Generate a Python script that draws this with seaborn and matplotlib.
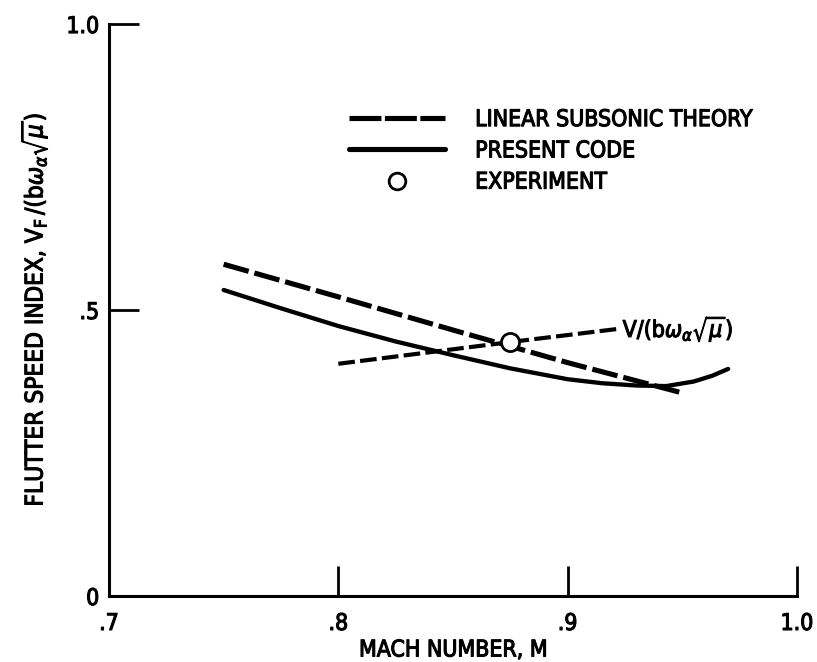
import matplotlib
matplotlib.use("Agg")
import matplotlib.pyplot as plt
import matplotlib.patheffects as pe
import seaborn as sns
import numpy as np
import pandas as pd
from matplotlib.lines import Line2D

# ---- data ----
mach_theory = [0.75, 0.80, 0.85, 0.90, 0.95]
index_theory = [0.580, 0.523, 0.465, 0.408, 0.355]

mach_code = [0.75, 0.775, 0.80, 0.825, 0.85, 0.875, 0.90, 0.915, 0.93, 0.943, 0.955, 0.963, 0.97]
index_code = [0.535, 0.503, 0.472, 0.445, 0.421, 0.398, 0.379, 0.372, 0.368, 0.367, 0.375, 0.385, 0.397]

mach_ref = [0.80, 0.875, 0.922]
index_ref = [0.406, 0.444, 0.467]

mach_exp = [0.875]
index_exp = [0.444]

x_ticks = [0.7, 0.8, 0.9, 1.0]
x_ticklabels = [".7", ".8", ".9", "1.0"]
y_ticks = [0.0, 0.5, 1.0]
y_ticklabels = ["0", ".5", "1.0"]
legend_labels = ["LINEAR SUBSONIC THEORY", "PRESENT CODE", "EXPERIMENT"]
ref_label = r"V$/(\mathregular{b}\omega_\alpha\sqrt{\mu})$"
x_label = "MACH NUMBER, M"
y_label = r"FLUTTER SPEED INDEX, V$_\mathregular{F}\,/(\mathregular{b}\omega_\alpha\sqrt{\mu})$"

# ---- style ----
sns.set_style("white")
plt.rcParams['font.family'] = ['DejaVu Sans']
plt.rcParams['font.stretch'] = 'condensed'
plt.rcParams['mathtext.fontset'] = 'dejavusans'
plt.rcParams['lines.scale_dashes'] = False
plt.rcParams['text.color'] = 'black'
plt.rcParams['axes.labelcolor'] = 'black'
plt.rcParams['xtick.color'] = 'black'
plt.rcParams['ytick.color'] = 'black'
FS = 16.5
BOLD = [pe.withStroke(linewidth=0.8, foreground="black")]

fig = plt.figure(figsize=(8.17, 6.62), dpi=100)
ax = fig.add_axes([0.1334, 0.0997, 0.8421, 0.8640])

df_theory = pd.DataFrame({"M": mach_theory, "V": index_theory})
df_code = pd.DataFrame({"M": mach_code, "V": index_code})
df_ref = pd.DataFrame({"M": mach_ref, "V": index_ref})
df_exp = pd.DataFrame({"M": mach_exp, "V": index_exp})

sns.lineplot(data=df_theory, x="M", y="V", ax=ax, color="black", lw=3.7, sort=False)
ax.lines[-1].set_dashes((18.7, 4.3))
sns.lineplot(data=df_code, x="M", y="V", ax=ax, color="black", lw=3.1, sort=False)
sns.lineplot(data=df_ref, x="M", y="V", ax=ax, color="black", lw=3.0, sort=False)
ax.lines[-1].set_dashes((12.0, 3.8))
sns.scatterplot(data=df_exp, x="M", y="V", ax=ax, s=170, marker="o",
                facecolor="white", edgecolor="black", linewidth=2.0, zorder=5)

ax.text(mach_ref[-1] + 0.002, index_ref[-1], ref_label, fontsize=FS,
        ha="left", va="center", color="black", path_effects=BOLD)

ax.set_xlim(0.7, 1.0)
ax.set_ylim(0.0, 1.0)
ax.set_xticks(x_ticks)
ax.set_xticklabels(x_ticklabels, fontsize=FS)
ax.set_yticks(y_ticks)
ax.set_yticklabels(y_ticklabels, fontsize=FS)
ax.tick_params(direction="in", length=21.6, width=2.0, color="black",
               bottom=True, left=True, labelcolor="black")
ax.tick_params(axis="x", pad=11.5)
ax.tick_params(axis="y", pad=7)
for lab in ax.get_xticklabels() + ax.get_yticklabels():
    lab.set_path_effects(BOLD)
for s in ["top", "right"]:
    ax.spines[s].set_visible(False)
for s in ["left", "bottom"]:
    ax.spines[s].set_linewidth(2.2)
    ax.spines[s].set_color("black")

ax.set_xlabel(x_label, fontsize=FS, labelpad=2.5, color="black", path_effects=BOLD)
ax.set_ylabel(y_label, fontsize=17.5, labelpad=12, color="black", path_effects=BOLD)

handles = [
    Line2D([], [], color="black", lw=3.7, dashes=(23, 2.5)),
    Line2D([], [], color="black", lw=3.7),
    Line2D([], [], color="black", lw=0, marker="o", markersize=12,
           markerfacecolor="white", markeredgecolor="black", markeredgewidth=2.0),
]
leg = ax.legend(handles, legend_labels, loc="upper left", bbox_to_anchor=(0.349, 0.853),
                frameon=False, fontsize=FS, handlelength=4.2, handletextpad=1.3,
                labelspacing=0.36, borderpad=0, borderaxespad=0)
for t in leg.get_texts():
    t.set_color("black")
    t.set_path_effects(BOLD)

fig.savefig("out.png", dpi=100)
